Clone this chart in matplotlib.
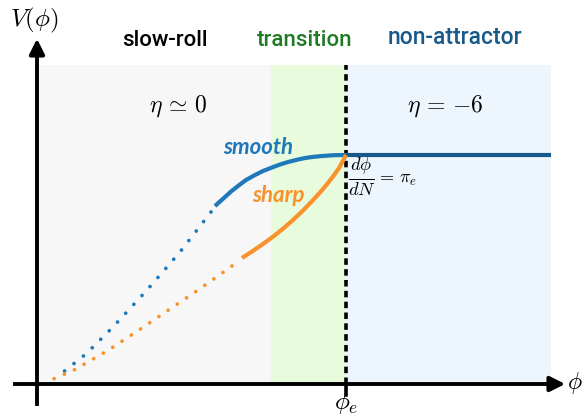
import matplotlib
matplotlib.use("Agg")
import matplotlib.pyplot as plt
from matplotlib.patches import Rectangle

plt.rcParams['mathtext.fontset'] = 'cm'

# ---- data (phi, V) in schematic units; origin at axes crossing ----
phi_e = 309
V_top = 319
region_edges = [0, 234, 309, 514]          # slow-roll | transition | non-attractor
region_colors = ['#f7f7f7', '#e8fbdc', '#eef6fd']
plateau_phi = [309, 514]
plateau_V = [229, 229]

smooth_phi = [178, 183, 188, 194, 201, 209, 218, 226, 235, 243, 251, 259, 268, 277, 285, 297, 309]
smooth_V = [178, 182.5, 187, 192.5, 198, 204, 209, 213, 216.5, 219.5, 222, 224, 226, 227.2, 228, 228.8, 229]
sharp_phi = [205, 215, 226, 236, 246, 256, 266, 275, 283, 290, 296, 302, 309]
sharp_V = [126, 132.5, 140, 147.3, 155.3, 164, 173.5, 182.8, 191.5, 199.8, 207.5, 215.8, 229]

smooth_dot_phi = [174, 143, 110, 76, 49, 20]
smooth_dot_V = [172, 132, 94, 57, 30, 7]
sharp_dot_phi = [195, 164, 133, 102, 70, 37, 14]
sharp_dot_V = [118, 96, 75, 54, 33, 14, 4]

BLUE = '#1f78b9'
ORANGE = '#f8922a'
NAVY = '#175a8a'
GREEN = '#1e7b24'

fig = plt.figure(figsize=(5.82, 4.16), dpi=100)
ax = fig.add_axes([0, 0, 1, 1])
ax.set_xlim(-37, 545)
ax.set_ylim(-32, 384)
ax.axis('off')

# shaded regions
for x0, x1, c in zip(region_edges[:-1], region_edges[1:], region_colors):
    ax.add_patch(Rectangle((x0, 0), x1 - x0, V_top, facecolor=c, edgecolor='none', zorder=0))

# dashed phi_e line
ax.plot([phi_e, phi_e], [0, V_top], color='black', lw=2.6, ls=(0, (1.8, 1.2)), zorder=3)
ax.plot([phi_e, phi_e], [-11, 0], color='black', lw=2.6, zorder=3)

# axes
ax.plot([0, 0], [-20, 340], color='black', lw=2.8, zorder=4)
ax.plot([-22, 520], [0, 0], color='black', lw=2.8, zorder=4)
ax.annotate('', xy=(0, 348), xytext=(0, 330),
            arrowprops=dict(arrowstyle='-|>,head_length=0.9,head_width=0.45', color='black', lw=2.8))
ax.annotate('', xy=(531, 0), xytext=(512, 0),
            arrowprops=dict(arrowstyle='-|>,head_length=0.9,head_width=0.45', color='black', lw=2.8))

# curves
ax.plot(plateau_phi, plateau_V, color=NAVY, lw=3.0, zorder=5, solid_capstyle='butt')
ax.plot(smooth_phi, smooth_V, color=BLUE, lw=3.0, zorder=5, solid_capstyle='butt',
        solid_joinstyle='round')
ax.plot(sharp_phi, sharp_V, color=ORANGE, lw=3.0, zorder=5, solid_capstyle='butt',
        solid_joinstyle='round')
ax.plot(smooth_dot_phi, smooth_dot_V, color=BLUE, lw=2.7, ls=(0, (0.01, 3.2)),
        dash_capstyle='round', zorder=5)
ax.plot(sharp_dot_phi, sharp_dot_V, color=ORANGE, lw=2.7, ls=(0, (0.01, 2.95)),
        dash_capstyle='round', zorder=5)

# labels
sans = 'Roboto'
ax.text(128, 344, 'slow-roll', ha='center', va='center', fontsize=16, family=sans,
        weight='medium', color='black')
ax.text(268, 344, 'transition', ha='center', va='center', fontsize=16, family=sans,
        weight='medium', color=GREEN)
ax.text(418, 347, 'non-attractor', ha='center', va='center', fontsize=16.5, family=sans,
        weight='medium', color=NAVY)

ax.text(141, 278, r'$\eta \,\simeq\, 0$', ha='center', va='center', fontsize=17)
ax.text(408, 278, r'$\eta \,=\, {-6}$', ha='center', va='center', fontsize=17)

ax.text(221, 237, 'smooth', ha='center', va='center', fontsize=16, family='Lato',
        weight='bold', style='italic', color=BLUE)
ax.text(241, 189, 'sharp', ha='center', va='center', fontsize=16, family='Lato',
        weight='bold', style='italic', color=ORANGE)
ax.text(311, 207, r'$\frac{d\phi}{dN}$', ha='left', va='center', fontsize=19)
ax.text(339, 205, r'$=\,\pi_e$', ha='left', va='center', fontsize=13)

ax.text(-3, 364, r'$V(\phi)$', ha='center', va='center', fontsize=18)
ax.text(530, 1, r'$\phi$', ha='left', va='center', fontsize=17)
ax.text(309, -19, r'$\phi_e$', ha='center', va='center', fontsize=18)

fig.savefig('out.png', dpi=100)
